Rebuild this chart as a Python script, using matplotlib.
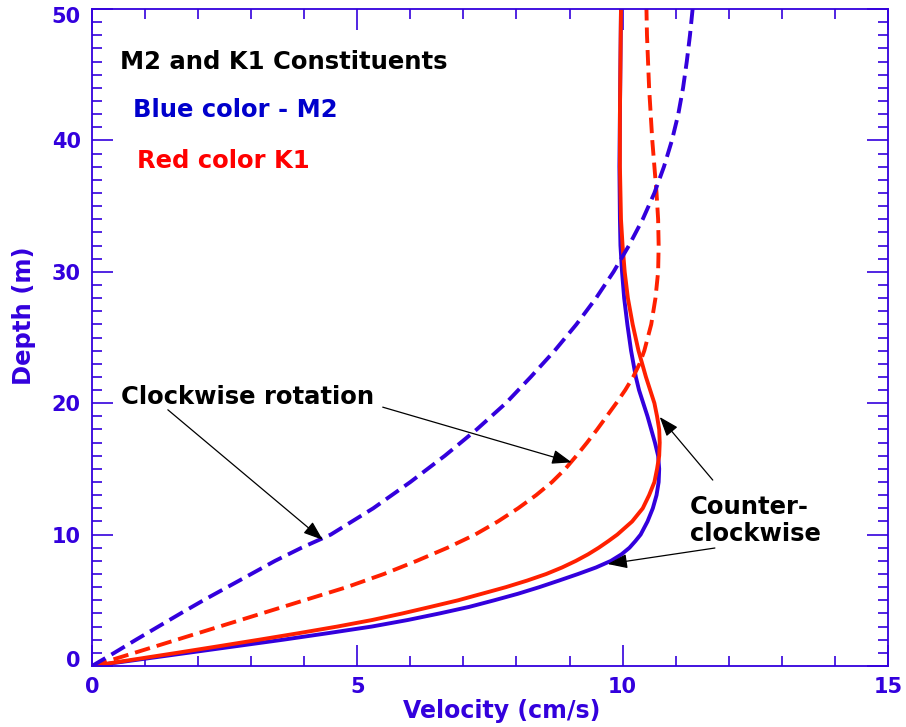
import matplotlib
matplotlib.use("Agg")
import matplotlib.pyplot as plt
from matplotlib.ticker import MultipleLocator
from matplotlib.transforms import ScaledTranslation

# Depth (m) samples and velocity (cm/s) for each profile
depth_m2_cw = [0, 1, 2, 3, 4, 5, 6, 7, 8, 9, 10, 12, 14, 16, 18, 20, 22, 24,
               26, 28, 30, 32, 34, 36, 38, 40, 42, 44, 46, 48, 50]
vel_m2_cw = [0.0, 0.42, 0.83, 1.25, 1.67, 2.1, 2.55, 3.0, 3.45, 3.95, 4.5,
             5.3, 6.0, 6.65, 7.25, 7.8, 8.27, 8.72, 9.13, 9.5, 9.83, 10.12,
             10.38, 10.6, 10.78, 10.93, 11.05, 11.14, 11.21, 11.27, 11.32]

depth_k1_cw = [0, 1, 2, 3, 4, 5, 6, 7, 8, 9, 10, 11, 12, 13, 14, 15, 16, 17,
               18, 19, 20, 21, 22, 23, 24, 26, 28, 30, 32, 34, 36, 38, 40,
               42, 44, 46, 48, 50]
vel_k1_cw = [0.0, 0.8, 1.6, 2.4, 3.2, 4.0, 4.8, 5.5, 6.12, 6.7, 7.22, 7.65,
             8.03, 8.37, 8.67, 8.92, 9.13, 9.33, 9.52, 9.7, 9.88, 10.05, 10.2,
             10.32, 10.41, 10.54, 10.62, 10.67, 10.68, 10.67, 10.64, 10.6,
             10.56, 10.53, 10.5, 10.48, 10.46, 10.45]

depth_m2_ccw = [0, 0.5, 1, 1.5, 2, 2.5, 3, 3.5, 4, 4.5, 5, 5.5, 6, 6.5, 7,
                7.5, 8, 8.5, 9, 9.5, 10, 11, 12, 13, 14, 15, 16, 17, 18, 19,
                20, 21, 22, 24, 26, 28, 30, 32, 34, 38, 42, 46, 50]
vel_m2_ccw = [0.0, 0.9, 1.8, 2.7, 3.6, 4.45, 5.27, 5.95, 6.55, 7.11, 7.58,
              8.03, 8.43, 8.8, 9.16, 9.5, 9.78, 9.98, 10.13, 10.24, 10.34,
              10.47, 10.57, 10.64, 10.68, 10.69, 10.67, 10.61, 10.54, 10.47,
              10.39, 10.31, 10.25, 10.16, 10.09, 10.03, 9.99, 9.96, 9.95,
              9.94, 9.95, 9.96, 9.97]

depth_k1_ccw = [0, 0.5, 1, 1.5, 2, 2.5, 3, 3.5, 4, 4.5, 5, 5.5, 6, 6.5, 7,
                7.5, 8, 8.5, 9, 9.5, 10, 11, 12, 13, 14, 15, 16, 17, 18, 19,
                20, 21, 22, 23, 24, 26, 28, 30, 32, 34, 38, 42, 46, 50]
vel_k1_ccw = [0.0, 0.8, 1.6, 2.38, 3.15, 3.9, 4.62, 5.28, 5.85, 6.38, 6.9,
              7.35, 7.8, 8.2, 8.56, 8.86, 9.12, 9.35, 9.55, 9.73, 9.9, 10.18,
              10.38, 10.5, 10.6, 10.65, 10.69, 10.7, 10.69, 10.65, 10.6,
              10.52, 10.44, 10.37, 10.3, 10.19, 10.1, 10.04, 10.0, 9.97,
              9.95, 9.95, 9.96, 9.97]

x_ticks = [0, 5, 10, 15]
y_ticks = [0, 10, 20, 30, 40, 50]

AXIS_BLUE = "#3300dd"
LINE_BLUE = "#3300dd"
LINE_RED = "#ff2000"
TEXT_BLUE = "#0000cc"
TEXT_RED = "#ff0000"

plt.rcParams["font.family"] = ["DejaVu Sans"]
plt.rcParams["font.weight"] = "bold"

fig = plt.figure(figsize=(9.06, 7.27), dpi=100)
ax = fig.add_axes([0.1015, 0.0839, 0.8785, 0.9037])

lw = 2.8
dash = (4.0, 1.8)
ax.plot(vel_m2_ccw, depth_m2_ccw, color=LINE_BLUE, lw=lw,
        solid_joinstyle="round")
ax.plot(vel_k1_ccw, depth_k1_ccw, color=LINE_RED, lw=lw,
        solid_joinstyle="round")
ax.plot(vel_k1_cw, depth_k1_cw, color=LINE_RED, lw=lw, dashes=dash)
ax.plot(vel_m2_cw, depth_m2_cw, color=LINE_BLUE, lw=lw, dashes=dash)

ax.set_xlim(0, 15)
ax.set_ylim(0, 50)
ax.set_xticks(x_ticks)
ax.set_yticks(y_ticks)
ax.xaxis.set_minor_locator(MultipleLocator(1))
ax.yaxis.set_minor_locator(MultipleLocator(1))
ax.tick_params(which="both", direction="in", top=True, right=True,
               color=AXIS_BLUE, width=1.2)
ax.tick_params(which="major", length=15, labelsize=15, labelcolor=AXIS_BLUE,
               pad=8)
ax.tick_params(which="minor", length=7.5)
for lbl in ax.get_xticklabels() + ax.get_yticklabels():
    lbl.set_fontweight("bold")
for sp in ax.spines.values():
    sp.set_color(AXIS_BLUE)
    sp.set_linewidth(1.3)

# keep the end labels of the depth axis inside the frame
ylabels = ax.get_yticklabels()
ylabels[0].set_transform(ylabels[0].get_transform()
                         + ScaledTranslation(0, 7 / 100, fig.dpi_scale_trans))
ylabels[-1].set_transform(ylabels[-1].get_transform()
                          + ScaledTranslation(0, -6 / 100, fig.dpi_scale_trans))

ax.set_xlabel("Velocity (cm/s)", fontsize=17, fontweight="bold",
              color=AXIS_BLUE, labelpad=1)
ax.xaxis.set_label_coords(0.515, -0.05)
ax.set_ylabel("Depth (m)", fontsize=17.5, fontweight="bold",
              color=AXIS_BLUE)
ax.yaxis.set_label_coords(-0.07, 0.533)

fs = 17.5
ax.text(0.53, 46.0, "M2 and K1 Constituents", fontsize=fs, fontweight="bold",
        color="black", va="center", ha="left")
ax.text(0.77, 42.3, "Blue color - M2", fontsize=fs, fontweight="bold",
        color=TEXT_BLUE, va="center", ha="left")
ax.text(0.85, 38.4, "Red color K1", fontsize=fs, fontweight="bold",
        color=TEXT_RED, va="center", ha="left")
ax.text(0.55, 20.5, "Clockwise rotation", fontsize=fs, fontweight="bold",
        color="black", va="center", ha="left")
ax.text(11.27, 11.1, "Counter-\nclockwise", fontsize=fs, fontweight="bold",
        color="black", va="center", ha="left", linespacing=1.15)

arrow = dict(arrowstyle="-|>,head_length=0.6,head_width=0.22", color="black",
             lw=0.9, mutation_scale=20, shrinkA=0, shrinkB=0)
ax.annotate("", xy=(4.35, 9.6), xytext=(1.43, 19.5), arrowprops=arrow)
ax.annotate("", xy=(9.04, 15.5), xytext=(5.48, 19.7), arrowprops=arrow)
ax.annotate("", xy=(10.7, 18.95), xytext=(11.7, 14.15), arrowprops=arrow)
ax.annotate("", xy=(9.72, 7.76), xytext=(11.74, 8.98), arrowprops=arrow)

fig.savefig("out.png", dpi=100)
